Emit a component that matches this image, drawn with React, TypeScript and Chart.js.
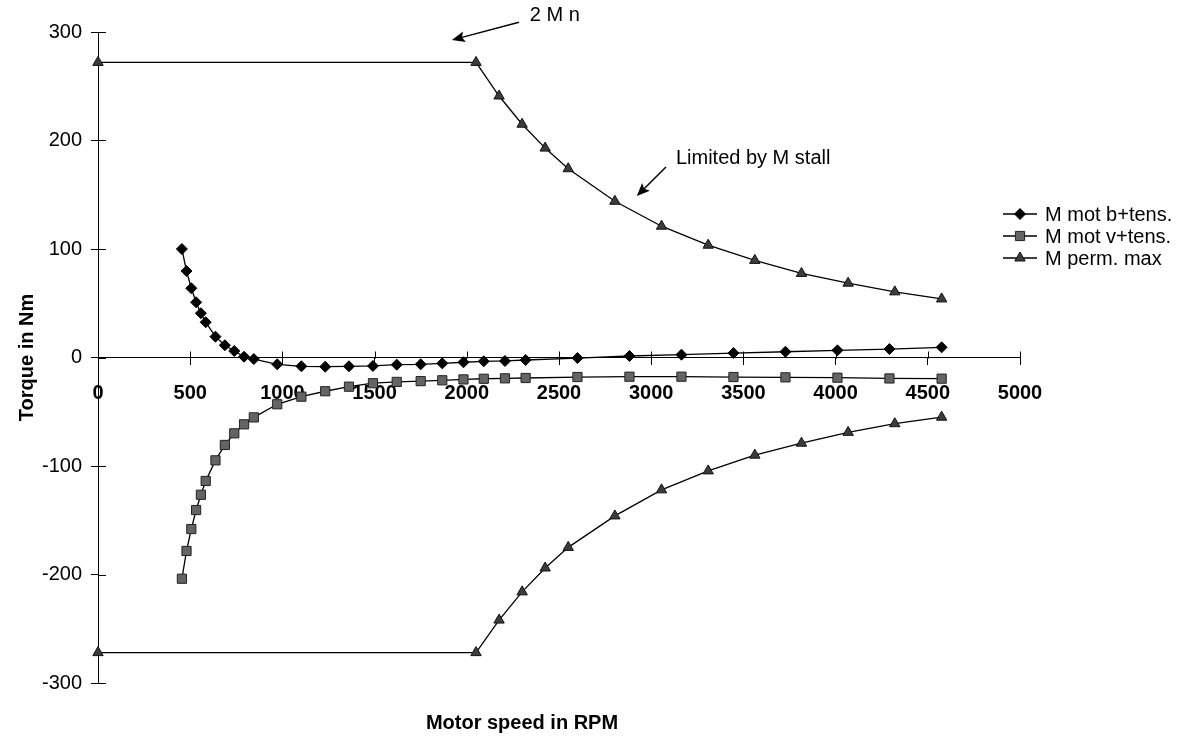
import React, { useEffect, useRef } from 'react';
import { Chart, registerables } from 'chart.js';

Chart.register(...registerables);

const FONT = "'Liberation Sans', Arial, sans-serif";

// Motor speed (RPM) for the two "M mot" series
const speedsMot = [455, 480, 506, 532, 558, 584, 637, 688, 739, 792, 845, 972, 1103, 1232, 1361, 1491, 1620, 1750, 1867, 1982, 2092, 2207, 2319, 2600, 2882, 3164, 3446, 3728, 4010, 4292, 4575];
// M mot b+tens. (Nm)
const torqueB = [100, 79.7, 63.8, 50.9, 40.8, 32.5, 19.2, 11.3, 6.0, 0.7, -1.4, -6.3, -8.1, -8.5, -8.1, -7.8, -6.6, -6.3, -5.4, -4.4, -3.5, -3.2, -2.3, -0.5, 1.4, 2.6, 4.1, 5.3, 6.6, 7.8, 9.4];
// M mot v+tens. (Nm)
const torqueV = [-203.9, -178.3, -158.1, -140.6, -126.5, -113.8, -94.8, -80.6, -69.9, -61.6, -55.2, -43.1, -36.1, -31.1, -26.9, -23.7, -22.5, -21.8, -21.0, -20.2, -19.6, -19.2, -18.9, -18.0, -17.7, -17.7, -18.0, -18.3, -18.6, -19.3, -19.5];
// Motor speed (RPM) for M perm. max
const speedsPerm = [0, 2050, 2175, 2300, 2425, 2550, 2803, 3056, 3309, 3562, 3815, 4068, 4321, 4575];
const permMaxUpper = [272, 272, 241, 215, 193, 174, 144, 121, 103.5, 89.5, 77.5, 68.5, 60.5, 54];
const permMaxLower = [-272, -272, -242, -216, -194, -175, -146, -122, -104.5, -90, -79, -69, -61, -55];

const xTicks = { min: 0, max: 5000, step: 500 };
const yTicks = { min: -300, max: 300, step: 100 };

const xTitle = 'Motor speed in RPM';
const yTitle = 'Torque in Nm';

// annotations in data units: text anchor, arrow start, arrow tip
const annotations = [
  { text: '2 M n', tx: 2342, ty: 315, fromX: 2283, fromY: 309, toX: 1919, toY: 292.6 },
  { text: 'Limited by M stall', tx: 3134, ty: 183, fromX: 3080, fromY: 175.6, toX: 2922, toY: 148.8 },
];

function drawMarker(ctx: CanvasRenderingContext2D, style: string, x: number, y: number, r: number, fill: string, stroke: string) {
  ctx.save();
  ctx.beginPath();
  if (style === 'rectRot') {
    ctx.moveTo(x - r, y);
    ctx.lineTo(x, y - r);
    ctx.lineTo(x + r, y);
    ctx.lineTo(x, y + r);
    ctx.closePath();
  } else if (style === 'rect') {
    const s = Math.SQRT1_2 * r;
    ctx.rect(x - s, y - s, 2 * s, 2 * s);
  } else {
    ctx.moveTo(x, y - r);
    ctx.lineTo(x + r * Math.sin((2 * Math.PI) / 3), y - r * Math.cos((2 * Math.PI) / 3));
    ctx.lineTo(x + r * Math.sin((4 * Math.PI) / 3), y - r * Math.cos((4 * Math.PI) / 3));
    ctx.closePath();
  }
  ctx.fillStyle = fill;
  ctx.fill();
  ctx.strokeStyle = stroke;
  ctx.lineWidth = 1;
  ctx.stroke();
  ctx.restore();
}

const extrasPlugin = {
  id: 'extras',
  afterDraw(chart: any) {
    const ctx: CanvasRenderingContext2D = chart.ctx;
    const xs = chart.scales.x;
    const ys = chart.scales.y;
    const y0 = ys.getPixelForValue(0);
    const left = chart.chartArea.left;
    ctx.save();
    ctx.strokeStyle = '#000';
    ctx.lineWidth = 1;
    // upper halves of x ticks (cross ticks)
    xs.ticks.forEach((t: any) => {
      const px = Math.round(xs.getPixelForValue(t.value)) + 0.5;
      ctx.beginPath();
      ctx.moveTo(px, Math.round(y0) - 7 + 0.5);
      ctx.lineTo(px, Math.round(y0) + 0.5);
      ctx.stroke();
    });
    // right halves of y ticks
    ys.ticks.forEach((t: any) => {
      const py = Math.round(ys.getPixelForValue(t.value)) + 0.5;
      ctx.beginPath();
      ctx.moveTo(Math.round(left), py);
      ctx.lineTo(Math.round(left) + 8, py);
      ctx.stroke();
    });

    // annotations
    ctx.fillStyle = '#000';
    ctx.font = `20px ${FONT}`;
    ctx.textBaseline = 'middle';
    ctx.textAlign = 'left';
    annotations.forEach((a) => {
      ctx.fillText(a.text, xs.getPixelForValue(a.tx), ys.getPixelForValue(a.ty));
      const x1 = xs.getPixelForValue(a.fromX);
      const y1 = ys.getPixelForValue(a.fromY);
      const x2 = xs.getPixelForValue(a.toX);
      const y2 = ys.getPixelForValue(a.toY);
      const ang = Math.atan2(y2 - y1, x2 - x1);
      const hl = 13;
      const hw = 5.5;
      ctx.beginPath();
      ctx.lineWidth = 1.5;
      ctx.moveTo(x1, y1);
      ctx.lineTo(x2 - Math.cos(ang) * hl * 0.8, y2 - Math.sin(ang) * hl * 0.8);
      ctx.stroke();
      ctx.beginPath();
      ctx.moveTo(x2, y2);
      ctx.lineTo(x2 - Math.cos(ang) * hl - Math.sin(ang) * hw, y2 - Math.sin(ang) * hl + Math.cos(ang) * hw);
      ctx.lineTo(x2 - Math.cos(ang) * hl * 0.8, y2 - Math.sin(ang) * hl * 0.8);
      ctx.lineTo(x2 - Math.cos(ang) * hl + Math.sin(ang) * hw, y2 - Math.sin(ang) * hl - Math.cos(ang) * hw);
      ctx.closePath();
      ctx.fill();
    });

    // axis titles
    ctx.font = `bold 20px ${FONT}`;
    ctx.textAlign = 'center';
    ctx.textBaseline = 'alphabetic';
    ctx.fillText(xTitle, 522, 729);
    ctx.save();
    ctx.translate(33, (chart.chartArea.top + chart.chartArea.bottom) / 2);
    ctx.rotate(-Math.PI / 2);
    ctx.fillText(yTitle, 0, 0);
    ctx.restore();

    // legend
    const lx = 1003;
    const rows = [214, 236, 258];
    ctx.font = `20px ${FONT}`;
    ctx.textAlign = 'left';
    ctx.textBaseline = 'middle';
    let row = 0;
    chart.data.datasets.forEach((ds: any) => {
      if (ds.label.startsWith('_')) return;
      const ly = rows[row++];
      ctx.beginPath();
      ctx.lineWidth = 1.3;
      ctx.strokeStyle = '#000';
      ctx.moveTo(lx, ly);
      ctx.lineTo(lx + 34, ly);
      ctx.stroke();
      drawMarker(ctx, ds.pointStyle, lx + 17, ly, ds.pointRadius, ds.pointBackgroundColor, ds.pointBorderColor);
      ctx.fillStyle = '#000';
      ctx.fillText(ds.label, lx + 42, ly + 1);
    });
    ctx.restore();
  },
};

export default function App() {
  const ref = useRef<HTMLCanvasElement>(null);
  useEffect(() => {
    if (!ref.current) return;
    Chart.defaults.font.family = FONT;
    const lineBase = { borderColor: '#000', borderWidth: 1.3, tension: 0, clip: false as any, showLine: true };
    const chart = new Chart(ref.current, {
      type: 'scatter',
      data: {
        datasets: [
          {
            ...lineBase,
            label: 'M mot b+tens.',
            data: speedsMot.map((x, i) => ({ x, y: torqueB[i] })),
            pointStyle: 'rectRot',
            pointRadius: 5.5,
            pointBackgroundColor: '#000',
            pointBorderColor: '#000',
            pointBorderWidth: 1,
          },
          {
            ...lineBase,
            label: 'M mot v+tens.',
            data: speedsMot.map((x, i) => ({ x, y: torqueV[i] })),
            pointStyle: 'rect',
            pointRadius: 6.5,
            pointBackgroundColor: '#646464',
            pointBorderColor: '#222',
            pointBorderWidth: 1,
          },
          {
            ...lineBase,
            label: 'M perm. max',
            data: speedsPerm.map((x, i) => ({ x, y: permMaxUpper[i] })),
            pointStyle: 'triangle',
            pointRadius: 6,
            pointBackgroundColor: '#3c3c3c',
            pointBorderColor: '#111',
            pointBorderWidth: 1,
          },
          {
            ...lineBase,
            label: '_M perm. max lower',
            data: speedsPerm.map((x, i) => ({ x, y: permMaxLower[i] })),
            pointStyle: 'triangle',
            pointRadius: 6,
            pointBackgroundColor: '#3c3c3c',
            pointBorderColor: '#111',
            pointBorderWidth: 1,
          },
        ],
      } as any,
      options: {
        animation: false,
        responsive: false,
        devicePixelRatio: 1,
        events: [],
        layout: { padding: { left: 0, right: 164, top: 32, bottom: 56 } },
        plugins: { legend: { display: false }, tooltip: { enabled: false } },
        scales: {
          x: {
            type: 'linear',
            position: { y: 0 } as any,
            min: xTicks.min,
            max: xTicks.max,
            ticks: {
              stepSize: xTicks.step,
              autoSkip: false,
              maxRotation: 0,
              color: '#000',
              padding: 17,
              font: { family: FONT, size: 20, weight: 'bold' },
              callback: (v: any) => String(v),
            },
            grid: { display: true, drawOnChartArea: false, drawTicks: true, tickLength: 7, color: '#000', lineWidth: 1 },
            border: { display: true, color: '#000', width: 1 },
          },
          y: {
            type: 'linear',
            position: 'left',
            min: yTicks.min,
            max: yTicks.max,
            ticks: {
              stepSize: yTicks.step,
              color: '#000',
              padding: 9,
              font: { family: FONT, size: 20 },
              callback: (v: any) => String(v),
            },
            grid: { display: true, drawOnChartArea: false, drawTicks: true, tickLength: 7, color: '#000', lineWidth: 1 },
            border: { display: true, color: '#000', width: 1 },
            afterFit: (s: any) => {
              s.width = 98;
            },
          },
        },
      } as any,
      plugins: [extrasPlugin],
    });
    return () => chart.destroy();
  }, []);
  return (
    <div style={{ position: 'fixed', left: 0, top: 0, width: 1184, height: 739, background: '#fff' }}>
      <canvas ref={ref} width={1184} height={739} style={{ width: 1184, height: 739 }} />
    </div>
  );
}
